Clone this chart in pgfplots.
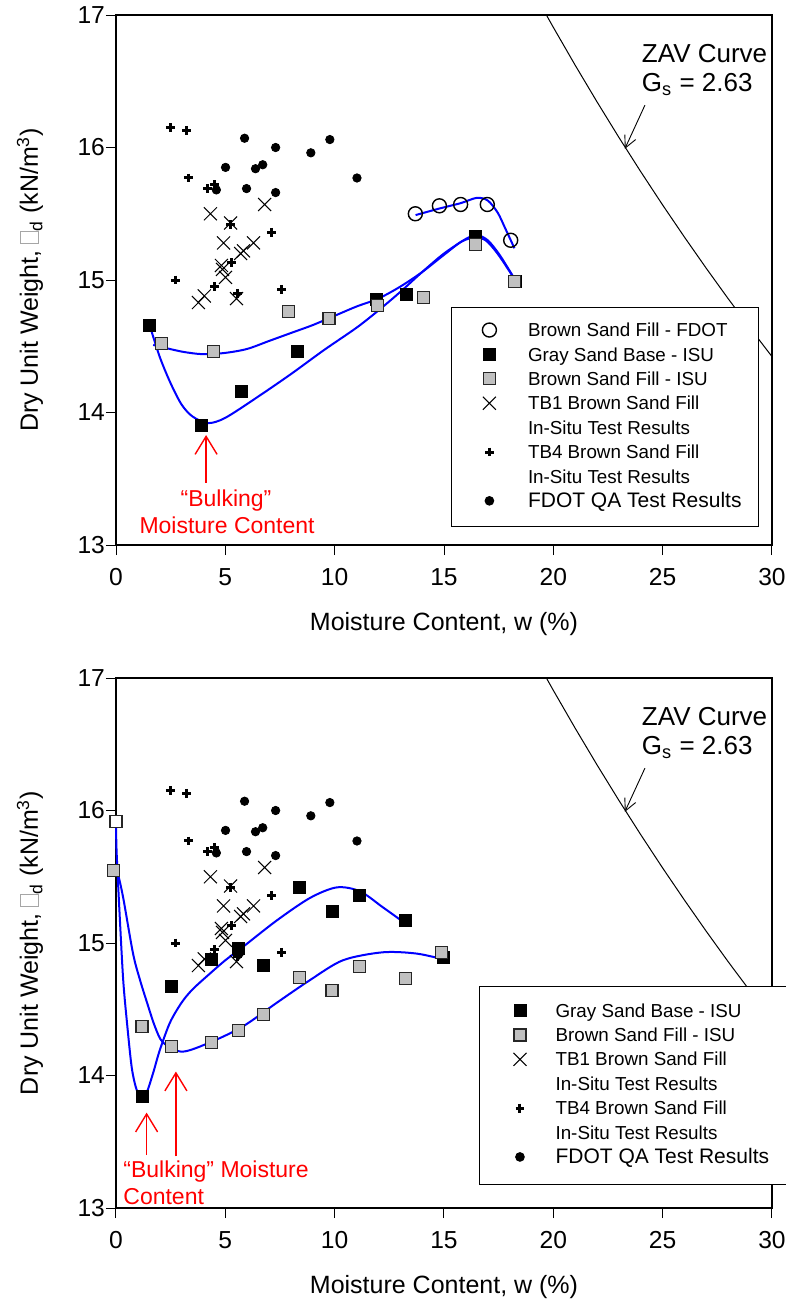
\documentclass[border=0pt]{standalone}
\usepackage{fontspec}
\setmainfont{Liberation Sans}
\usepackage{pgfplots}
\pgfplotsset{compat=1.18}
\usepackage{pgfplotstable}
\usetikzlibrary{arrows.meta}

\definecolor{isugray}{RGB}{192,192,192}
\definecolor{fitblue}{RGB}{0,0,255}

% hollow box standing in for the gamma glyph
\newcommand{\gbox}{{\color{gray!70}\fboxsep=0pt\fboxrule=0.4pt\fbox{\rule{0pt}{0.68em}\hspace{0.42em}}}}

% ---------- field data shared by both panels ----------
\pgfplotstableread{
x y
4.32 15.50
5.24 15.43
6.80 15.57
4.92 15.28
6.29 15.28
5.70 15.20
5.83 15.22
4.82 15.11
4.87 15.08
5.01 15.02
4.04 14.88
3.77 14.83
5.51 14.86
}\tbone

\pgfplotstableread{
x y
2.48 16.15
3.22 16.13
3.31 15.77
4.18 15.69
4.50 15.72
5.24 15.42
7.12 15.36
5.28 15.13
2.71 15.00
4.50 14.95
5.56 14.90
7.58 14.93
}\tbfour

\pgfplotstableread{
x y
5.88 16.07
7.30 16.00
9.78 16.06
8.91 15.96
5.01 15.85
6.38 15.84
6.71 15.87
11.02 15.77
4.59 15.68
5.97 15.69
7.30 15.66
}\qa

% ---------- laboratory Proctor data, upper panel ----------
\pgfplotstableread{
x y
13.69 15.50
14.79 15.56
15.76 15.57
16.98 15.57
18.05 15.30
}\fdottop

\pgfplotstableread{
x y
1.51 14.66
3.90 13.90
5.74 14.16
8.31 14.46
11.90 14.85
13.27 14.89
16.44 15.33
18.25 14.99
}\gsbtop

\pgfplotstableread{
x y
2.07 14.52
4.46 14.46
7.90 14.76
9.74 14.71
11.95 14.81
14.06 14.87
16.44 15.27
18.24 14.99
}\bsftop

% ---------- laboratory Proctor data, lower panel ----------
\pgfplotstableread{
x y
1.19 13.84
2.53 14.67
4.36 14.88
5.60 14.96
6.75 14.83
8.41 15.42
9.88 15.24
11.12 15.36
13.23 15.17
14.95 14.89
}\gsbbot

\pgfplotstableread{
x y
-0.10 15.55
1.19 14.37
2.53 14.22
4.36 14.25
5.60 14.34
6.75 14.46
8.41 14.74
9.88 14.64
11.12 14.82
13.23 14.73
14.88 14.93
}\bsfbot

% zero-air-voids line, Gs = 2.63
\pgfplotstableread{
x y
19.70 16.995
20 16.907
21 16.621
22 16.344
23 16.076
24 15.817
25 15.566
26 15.323
27 15.087
28 14.858
29 14.637
30 14.422
}\zav

\tikzset{
  fdotmk/.style={only marks, mark=o, mark size=3.5pt, mark options={line width=0.7pt, draw=black}},
  gsbmk/.style={only marks, mark=square*, mark size=3pt, mark options={fill=black, draw=black, line width=0.4pt}},
  bsfmk/.style={only marks, mark=square*, mark size=3pt, mark options={fill=isugray, draw=black!85, line width=0.6pt}},
  whitemk/.style={only marks, mark=square*, mark size=3pt, mark options={fill=white, draw=black!85, line width=0.6pt}},
  tbonemk/.style={only marks, mark=x, mark size=4.6pt, mark options={line width=0.5pt, draw=black}},
  tbfourmk/.style={only marks, mark=+, mark size=2.2pt, mark options={line width=1.5pt, draw=black}},
  qamk/.style={only marks, mark=*, mark size=2.1pt, mark options={fill=black, draw=black}},
  fitline/.style={fitblue, line width=1pt, smooth, mark=none},
}

\pgfplotsset{
  proctor/.style={
    scale only axis, width=328pt, height=265pt,
    xmin=0, xmax=30, ymin=13, ymax=17,
    xtick={0,5,...,30}, ytick={13,14,15,16,17},
    tick align=outside, tick pos=left, major tick length=5pt,
    tick style={black, line width=0.5pt},
    axis line style={line width=0.6pt},
    ticklabel style={font=\fontsize{12.3}{14}\selectfont},
    xticklabel style={yshift=-3pt},
    yticklabel style={xshift=3pt},
    /pgf/number format/assume math mode=true,
    clip=false,
    every axis x label/.style={at={(axis description cs:0.5,0)}, anchor=center, yshift=-39.5pt, font=\fontsize{12.5}{15}\selectfont},
    every axis y label/.style={at={(axis description cs:0,0.5)}, anchor=center, xshift=-43pt, rotate=90, font=\fontsize{12.5}{15}\selectfont},
    xlabel={Moisture Content, w (\%)},
    ylabel={Dry Unit Weight, \gbox\textsubscript{d} (kN/m\textsuperscript{3})},
    legend style={draw=black, line width=0.6pt, fill=white, anchor=north west,
      inner xsep=8.5pt, inner ysep=7.5pt, row sep=3.2pt, cells={anchor=west},
      nodes={inner sep=0pt, text height=7pt, text depth=2pt, font=\fontsize{9.4}{11}\selectfont}},
  },
}

\begin{document}
\begin{tikzpicture}

% ================= upper panel =================
\begin{axis}[proctor, at={(58pt,-272.5pt)}, anchor=south west,
  legend image code/.code={\path (-10pt,0pt) (19pt,0pt); \draw[#1] plot coordinates {(0pt,0.8pt)};},
  legend style={at={(0.511,0.449)}}]
\addplot[black, line width=0.5pt, forget plot] table {\zav};

\addplot[tbonemk, forget plot] table {\tbone};
\addplot[tbfourmk, forget plot] table {\tbfour};
\addplot[qamk, forget plot] table {\qa};
\addplot[gsbmk, forget plot] table {\gsbtop};
\addplot[bsfmk, forget plot] table {\bsftop};
\addplot[fdotmk, forget plot] table {\fdottop};

% fitted compaction curves
\addplot[fitline, forget plot] coordinates {(13.70,15.49) (14.80,15.54) (15.76,15.58) (16.50,15.62) (17.00,15.60) (17.45,15.51) (17.80,15.39) (18.22,15.24)};
\addplot[fitline, forget plot] coordinates {(1.50,14.68) (2.00,14.42) (2.50,14.22) (3.00,14.06) (3.50,13.97) (4.20,13.92) (5.00,13.96) (6.50,14.12) (8.00,14.29) (9.50,14.47) (11.00,14.64) (12.00,14.77) (13.00,14.91) (14.00,15.06) (15.00,15.20) (16.00,15.31) (16.50,15.34) (17.00,15.30) (17.50,15.20) (18.00,15.07) (18.40,14.96)};
\addplot[fitline, forget plot] coordinates {(1.70,14.51) (3.00,14.46) (4.00,14.44) (5.00,14.45) (6.00,14.48) (7.00,14.54) (8.00,14.60) (9.00,14.66) (10.00,14.73) (11.00,14.80) (12.00,14.86) (13.00,14.95) (14.00,15.06) (15.00,15.19) (15.80,15.29) (16.40,15.32) (16.90,15.30) (17.40,15.21) (17.90,15.09) (18.40,14.96)};

% annotations
\node[anchor=base west, font=\fontsize{13}{15}\selectfont] at (axis cs:23.73,16.64) {ZAV Curve};
\node[anchor=base west, font=\fontsize{13}{15}\selectfont] at (axis cs:23.73,16.42) {G\textsubscript{s} = 2.63};
\draw[black, line width=0.45pt, -{Straight Barb[length=6pt,width=6pt]}] (axis cs:24.19,16.32) -- (axis cs:23.27,15.99);

\draw[red, line width=0.7pt, -{Straight Barb[length=9pt,width=11pt]}] (axis cs:4.12,13.47) -- (axis cs:4.12,13.83);
\node[anchor=base, red, font=\fontsize{11.5}{13}\selectfont] at (axis cs:5.03,13.287) {“Bulking”};
\node[anchor=base, red, font=\fontsize{11.5}{13}\selectfont] at (axis cs:5.08,13.09) {Moisture Content};

\addlegendimage{fdotmk}\addlegendentry{Brown Sand Fill - FDOT}
\addlegendimage{gsbmk}\addlegendentry{Gray Sand Base - ISU}
\addlegendimage{bsfmk}\addlegendentry{Brown Sand Fill - ISU}
\addlegendimage{tbonemk}\addlegendentry{TB1 Brown Sand Fill}
\addlegendimage{empty legend}\addlegendentry{In-Situ Test Results}
\addlegendimage{tbfourmk}\addlegendentry{TB4 Brown Sand Fill}
\addlegendimage{empty legend}\addlegendentry{In-Situ Test Results}
\addlegendimage{qamk}\addlegendentry{\fontsize{10.5}{12}\selectfont FDOT QA Test Results}
\end{axis}

% ================= lower panel =================
\begin{axis}[proctor, at={(58pt,-604pt)}, anchor=south west,
  legend image code/.code={\path (-11.5pt,0pt) (17.5pt,0pt); \draw[#1] plot coordinates {(0pt,0.8pt)};},
  legend style={at={(0.553,0.419)}, inner ysep=8.3pt}]
\addplot[black, line width=0.5pt, forget plot] table {\zav};

\addplot[tbonemk, forget plot] table {\tbone};
\addplot[tbfourmk, forget plot] table {\tbfour};
\addplot[qamk, forget plot] table {\qa};
\addplot[gsbmk, forget plot] table {\gsbbot};
\addplot[bsfmk, forget plot] table {\bsfbot};
\addplot[whitemk, forget plot] coordinates {(0,15.92)};

% fitted compaction curves
\addplot[fitline, forget plot] coordinates {(0.00,15.91) (0.03,15.68) (0.18,15.17) (0.33,14.72) (0.49,14.42) (0.72,14.06) (0.95,13.89) (1.19,13.85) (1.40,13.87) (1.70,14.02) (2.00,14.19) (2.47,14.40) (3.00,14.55) (3.50,14.65) (4.30,14.77) (5.00,14.87) (5.80,14.97) (7.35,15.17) (8.87,15.34) (10.10,15.42) (11.16,15.39) (12.20,15.27) (13.30,15.14)};
\addplot[fitline, forget plot] coordinates {(0.05,15.55) (0.32,15.35) (0.78,14.92) (1.10,14.72) (1.42,14.55) (1.78,14.37) (2.15,14.25) (3.02,14.18) (4.30,14.25) (5.80,14.37) (7.36,14.55) (8.87,14.72) (10.38,14.87) (12.20,14.93) (13.76,14.92) (15.13,14.87)};

% annotations
\node[anchor=base west, font=\fontsize{13}{15}\selectfont] at (axis cs:23.73,16.64) {ZAV Curve};
\node[anchor=base west, font=\fontsize{13}{15}\selectfont] at (axis cs:23.73,16.42) {G\textsubscript{s} = 2.63};
\draw[black, line width=0.45pt, -{Straight Barb[length=6pt,width=6pt]}] (axis cs:24.19,16.32) -- (axis cs:23.27,15.99);

\draw[red, line width=0.7pt, -{Straight Barb[length=9pt,width=11pt]}] (axis cs:1.40,13.40) -- (axis cs:1.40,13.72);
\draw[red, line width=0.7pt, -{Straight Barb[length=9pt,width=11pt]}] (axis cs:2.74,13.39) -- (axis cs:2.74,14.03);
\node[anchor=base west, red, font=\fontsize{11.5}{13}\selectfont, inner sep=0pt] at (axis cs:0.32,13.234) {“Bulking” Moisture};
\node[anchor=base west, red, font=\fontsize{11.5}{13}\selectfont, inner sep=0pt] at (axis cs:0.32,13.03) {Content};

\addlegendimage{gsbmk}\addlegendentry{Gray Sand Base - ISU}
\addlegendimage{bsfmk}\addlegendentry{Brown Sand Fill - ISU}
\addlegendimage{tbonemk}\addlegendentry{TB1 Brown Sand Fill}
\addlegendimage{empty legend}\addlegendentry{In-Situ Test Results}
\addlegendimage{tbfourmk}\addlegendentry{TB4 Brown Sand Fill}
\addlegendimage{empty legend}\addlegendentry{In-Situ Test Results}
\addlegendimage{qamk}\addlegendentry{\fontsize{10.5}{12}\selectfont FDOT QA Test Results}
\end{axis}

\pgfresetboundingbox
\useasboundingbox (0pt,0pt) rectangle (393pt,-654pt);
\end{tikzpicture}
\end{document}
